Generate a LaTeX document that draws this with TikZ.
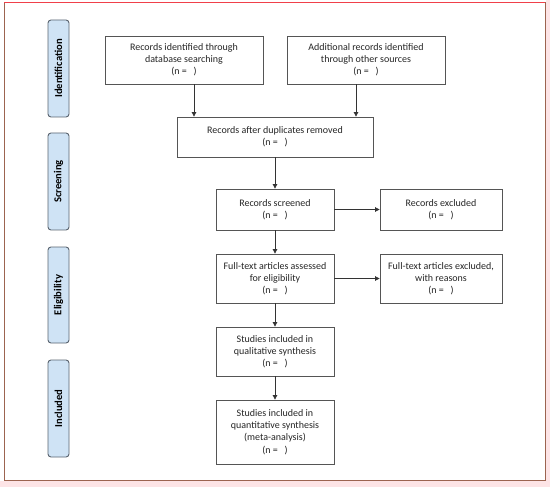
\documentclass[tikz,border=0pt]{standalone}
\usepackage{fontspec}
\setmainfont{Carlito}
\usetikzlibrary{arrows.meta}
\definecolor{framebrown}{HTML}{9C6450}
\definecolor{framered}{HTML}{F0404A}
\definecolor{bandpink}{HTML}{FDE4E6}
\definecolor{phasefill}{HTML}{CFE3F5}
\definecolor{phaseline}{HTML}{5A6470}
\definecolor{boxline}{HTML}{555555}
\tikzset{
  flowbox/.style={draw=boxline, line width=0.8pt, fill=white, align=center,
    font=\fontsize{10}{12.2}\selectfont, text=black!85, inner sep=0pt},
  phasebox/.style={draw=phaseline, line width=0.9pt, fill=phasefill, rounded corners=3pt,
    inner sep=0pt},
  phasetext/.style={font=\bfseries\fontsize{10.6}{12}\selectfont, rotate=90},
  flowarrow/.style={draw=black!80, line width=0.7pt, -{Triangle[length=4.5pt,width=4.5pt]}}
}
\begin{document}
\begin{tikzpicture}[x=1pt,y=-1pt]
\useasboundingbox (0,0) rectangle (550,487);
\fill[white] (0,0) rectangle (550,487);
\fill[bandpink] (0,481) rectangle (550,487);
\fill[bandpink] (546,0) rectangle (550,487);
\draw[framebrown, line width=1pt] (4,3) rectangle (545,480);
\draw[framered, line width=1pt] (4,3) -- (545,3);
% phase labels
\node[phasebox, minimum width=21pt, minimum height=97pt] (ph1) at (58.5,68.5) {};
\node[phasetext] at (ph1) {Identification};
\node[phasebox, minimum width=21pt, minimum height=97pt] (ph2) at (58.5,181.5) {};
\node[phasetext] at (ph2) {Screening};
\node[phasebox, minimum width=21pt, minimum height=96pt] (ph3) at (58.5,295) {};
\node[phasetext] at (ph3) {Eligibility};
\node[phasebox, minimum width=21pt, minimum height=97pt] (ph4) at (58.5,408.5) {};
\node[phasetext] at (ph4) {Included};
% boxes
\node[flowbox, minimum width=158pt, minimum height=48pt] (b1) at (184,60)
  {Records identified through\\database searching\\(n =~~~)};
\node[flowbox, minimum width=158pt, minimum height=48pt] (b2) at (366,60)
  {Additional records identified\\through other sources\\(n =~~~)};
\node[flowbox, minimum width=196pt, minimum height=40pt] (b3) at (275,137)
  {Records after duplicates removed\\(n =~~~)};
\node[flowbox, minimum width=118pt, minimum height=41pt] (b4) at (275,209.5)
  {Records screened\\(n =~~~)};
\node[flowbox, minimum width=122pt, minimum height=41pt] (b5) at (441,209.5)
  {Records excluded\\(n =~~~)};
\node[flowbox, minimum width=118pt, minimum height=49pt] (b6) at (275,278.5)
  {Full-text articles assessed\\for eligibility\\(n =~~~)};
\node[flowbox, minimum width=122pt, minimum height=49pt] (b7) at (441,278.5)
  {Full-text articles excluded,\\with reasons\\(n =~~~)};
\node[flowbox, minimum width=118pt, minimum height=49pt] (b8) at (275,351.5)
  {Studies included in\\qualitative synthesis\\(n =~~~)};
\node[flowbox, minimum width=118pt, minimum height=64pt] (b9) at (275,432)
  {Studies included in\\quantitative synthesis\\(meta-analysis)\\(n =~~~)};
% arrows
\draw[flowarrow] (b1.south -| 194,0) -- (b3.north -| 194,0);
\draw[flowarrow] (b2.south -| 356,0) -- (b3.north -| 356,0);
\draw[flowarrow] (b3) -- (b4);
\draw[flowarrow] (b4) -- (b5);
\draw[flowarrow] (b4) -- (b6);
\draw[flowarrow] (b6) -- (b7);
\draw[flowarrow] (b6) -- (b8);
\draw[flowarrow] (b8) -- (b9);
\end{tikzpicture}
\end{document}
